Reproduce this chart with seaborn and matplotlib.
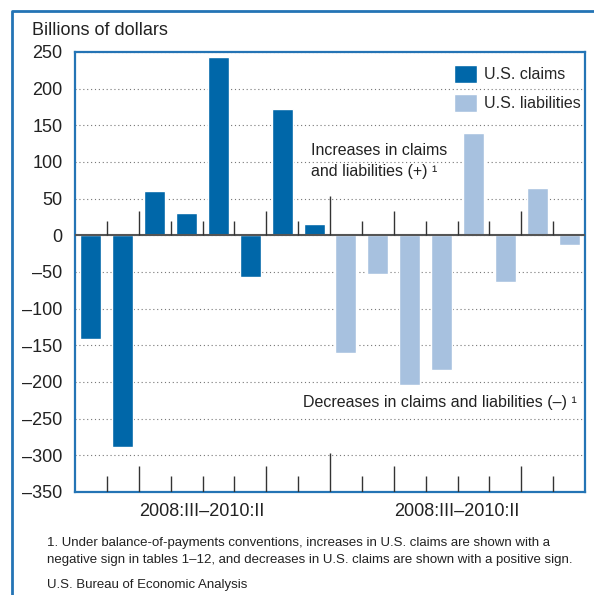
import pandas as pd
import matplotlib.pyplot as plt
import seaborn as sns
from matplotlib.lines import Line2D

sns.set_style("white")
plt.rcParams['font.family'] = ['Liberation Sans', 'DejaVu Sans']

# quarters 2008:III - 2010:II, shown once for claims and once for liabilities
quarters = ["2008:III", "2008:IV", "2009:I", "2009:II",
            "2009:III", "2009:IV", "2010:I", "2010:II"]
claims = [-142, -289, 60, 31, 243, -57, 172, 16]
liabilities = [-161, -53, -204, -184, 139, -64, 64, -13]
series_names = ["U.S. claims", "U.S. liabilities"]
yticks = list(range(-350, 251, 50))

df = pd.DataFrame({
    "slot": [f"c {q}" for q in quarters] + [f"l {q}" for q in quarters],
    "value": claims + liabilities,
    "series": [series_names[0]] * 8 + [series_names[1]] * 8,
})

blue = "#0067a9"
light = "#a7c1df"
frame = "#2474b5"

fig = plt.figure(figsize=(5.94, 5.95), dpi=100)
ax = fig.add_axes([75 / 594, 1 - 492 / 595, 510 / 594, 440 / 595])

sns.barplot(data=df, x="slot", y="value", hue="series", dodge=False,
            palette=[blue, light], width=0.66, saturation=1, ax=ax)

ax.set_xlim(-0.5, 15.5)
ax.set_ylim(-350, 250)
ax.set_yticks(yticks)
ax.set_yticklabels([str(v).replace("-", "\u2013") for v in yticks], fontsize=13, color="#222")
ax.set_xticks([])
ax.set_xlabel("")
ax.set_ylabel("")
ax.tick_params(axis="y", length=0, pad=9)

ax.yaxis.grid(True, linestyle=(0, (1, 2.5)), color="#777", linewidth=0.8)
ax.set_axisbelow(True)
ax.axhline(0, color="#555", linewidth=1.5, zorder=3)

for s in ax.spines.values():
    s.set_color(frame)
    s.set_linewidth(1.6)

# quarter separator ticks along the zero line and the bottom
n = len(quarters) * 2
for k in range(1, n):
    q = k % 8
    if k == 8:
        top_h, bot_h = 53, 53
    elif q in (2, 6):
        top_h, bot_h = 33, 35
    else:
        top_h, bot_h = 20, 22
    ax.vlines(k - 0.5, 0, top_h, color="#333", linewidth=1, zorder=3)
    ax.vlines(k - 0.5, -350, -350 + bot_h, color="#333", linewidth=1, zorder=3)

handles, labels = ax.get_legend_handles_labels()
ax.legend(handles, labels, loc="upper right", bbox_to_anchor=(1.01, 0.993),
          frameon=False, fontsize=11.5, handlelength=1.45, handleheight=1.35,
          handletextpad=0.4, labelspacing=0.7, borderaxespad=0.2)

fig.text(32 / 594, 1 - 35 / 595, "Billions of dollars", fontsize=13,
         color="#222", va="baseline")
fig.text(311 / 594, 1 - 161 / 595, "Increases in claims\nand liabilities (+) \u00b9",
         fontsize=11.5, color="#222", va="center", linespacing=1.5)
fig.text(577 / 594, 1 - 402 / 595, "Decreases in claims and liabilities (\u2013) \u00b9",
         fontsize=11.5, color="#222", va="center", ha="right")

fig.text(202 / 594, 1 - 512 / 595, "2008:III\u20132010:II", fontsize=13,
         color="#222", va="center", ha="center")
fig.text(457 / 594, 1 - 512 / 595, "2008:III\u20132010:II", fontsize=13,
         color="#222", va="center", ha="center")

fig.text(47 / 594, 1 - 551.5 / 595,
         "1. Under balance-of-payments conventions, increases in U.S. claims are shown with a\n"
         "negative sign in tables 1\u201312, and decreases in U.S. claims are shown with a positive sign.",
         fontsize=9.5, color="#222", va="center", linespacing=1.5)
fig.text(47 / 594, 1 - 585 / 595, "U.S. Bureau of Economic Analysis",
         fontsize=9.5, color="#222", va="center")

# outer frame (top and left edges)
fig.add_artist(Line2D([12 / 594, 12 / 594, 1.0], [0.0, 1 - 11 / 595, 1 - 11 / 595],
                      transform=fig.transFigure, color=frame, linewidth=2))

fig.savefig("out.png", dpi=100)
